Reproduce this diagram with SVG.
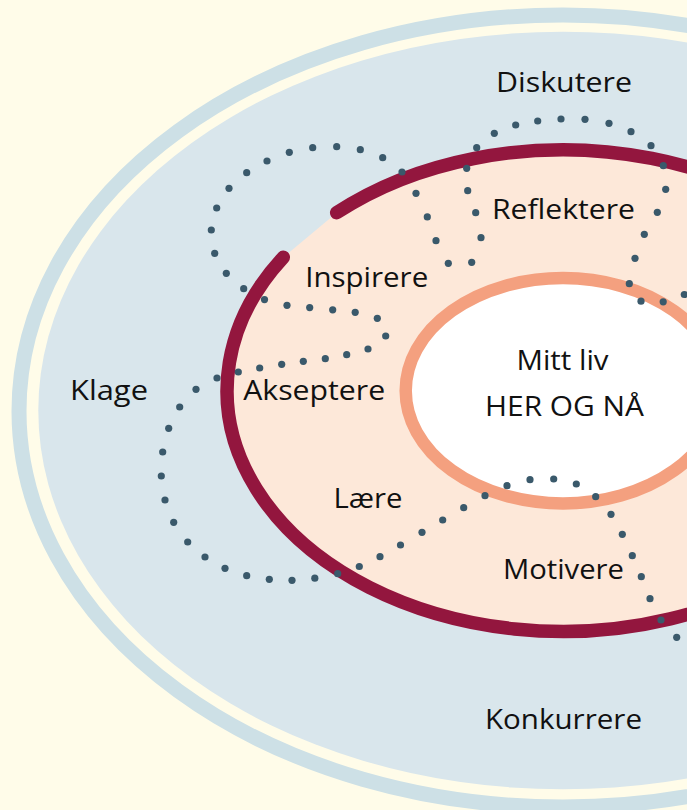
<svg xmlns="http://www.w3.org/2000/svg" width="687" height="810" viewBox="0 0 687 810">
  <style>
    .lbl { font-family: "Open Sans", "Liberation Sans", sans-serif; font-size: 27px; fill: #111111; text-anchor: middle; }
    .dot { fill: #3a596b; }
  </style>
  <rect x="0" y="0" width="687" height="810" fill="#fffce9"/>

  <g id="outer-ring">
    <ellipse cx="563" cy="411" rx="544" ry="396" fill="none" stroke="#cde0e6" stroke-width="15"/>
    <ellipse cx="563" cy="410.5" rx="524.7" ry="378.8" fill="#d9e6ec"/>
  </g>

  <g id="middle-ring">
    <path d="M 336.7 212.7 A 336 240.8 0 1 1 283.3 257.3 Z" fill="#fde8d9"/>
    <path d="M 336.7 212.7 A 336 240.8 0 1 1 283.3 257.3" fill="none" stroke="#93163e" stroke-width="13.5" stroke-linecap="round"/>
  </g>

  <g id="inner-circle">
    <ellipse cx="563" cy="390.7" rx="157.3" ry="112.7" fill="#ffffff" stroke="#f4a07f" stroke-width="12.5"/>
  </g>

  <g id="dotted-path">
    <circle class="dot" cx="684.3" cy="294.5" r="3.6"/>
    <circle class="dot" cx="663.2" cy="301.8" r="3.6"/>
    <circle class="dot" cx="641" cy="301.2" r="3.6"/>
    <circle class="dot" cx="629.3" cy="283.7" r="3.6"/>
    <circle class="dot" cx="635" cy="258.3" r="3.6"/>
    <circle class="dot" cx="644.3" cy="234.3" r="3.6"/>
    <circle class="dot" cx="657.3" cy="212.3" r="3.6"/>
    <circle class="dot" cx="665.7" cy="189.3" r="3.6"/>
    <circle class="dot" cx="663.3" cy="165.7" r="3.6"/>
    <circle class="dot" cx="651" cy="145.7" r="3.6"/>
    <circle class="dot" cx="631" cy="131.7" r="3.6"/>
    <circle class="dot" cx="609" cy="123.3" r="3.6"/>
    <circle class="dot" cx="585" cy="119.3" r="3.6"/>
    <circle class="dot" cx="561" cy="119" r="3.6"/>
    <circle class="dot" cx="537.7" cy="121" r="3.6"/>
    <circle class="dot" cx="515.7" cy="125" r="3.6"/>
    <circle class="dot" cx="494.3" cy="133.3" r="3.6"/>
    <circle class="dot" cx="476.7" cy="147.7" r="3.6"/>
    <circle class="dot" cx="466.7" cy="168.3" r="3.6"/>
    <circle class="dot" cx="467.7" cy="190.7" r="3.6"/>
    <circle class="dot" cx="475.7" cy="212.7" r="3.6"/>
    <circle class="dot" cx="481" cy="237.7" r="3.6"/>
    <circle class="dot" cx="471.7" cy="262.3" r="3.6"/>
    <circle class="dot" cx="448.3" cy="263.3" r="3.6"/>
    <circle class="dot" cx="436" cy="240.7" r="3.6"/>
    <circle class="dot" cx="427.3" cy="216.9" r="3.6"/>
    <circle class="dot" cx="416" cy="193.3" r="3.6"/>
    <circle class="dot" cx="402" cy="172" r="3.6"/>
    <circle class="dot" cx="382.7" cy="157.7" r="3.6"/>
    <circle class="dot" cx="360.3" cy="149.7" r="3.6"/>
    <circle class="dot" cx="336.7" cy="146.7" r="3.6"/>
    <circle class="dot" cx="312.7" cy="147.7" r="3.6"/>
    <circle class="dot" cx="289.3" cy="152.3" r="3.6"/>
    <circle class="dot" cx="267" cy="161" r="3.6"/>
    <circle class="dot" cx="246.7" cy="172.7" r="3.6"/>
    <circle class="dot" cx="229" cy="188.3" r="3.6"/>
    <circle class="dot" cx="216.7" cy="208" r="3.6"/>
    <circle class="dot" cx="211.3" cy="230" r="3.6"/>
    <circle class="dot" cx="214.7" cy="253.3" r="3.6"/>
    <circle class="dot" cx="226.3" cy="273.3" r="3.6"/>
    <circle class="dot" cx="243.7" cy="288.7" r="3.6"/>
    <circle class="dot" cx="264.5" cy="299.6" r="3.6"/>
    <circle class="dot" cx="287" cy="305.3" r="3.6"/>
    <circle class="dot" cx="309.7" cy="307.6" r="3.6"/>
    <circle class="dot" cx="332.7" cy="309.8" r="3.6"/>
    <circle class="dot" cx="355.2" cy="312.3" r="3.6"/>
    <circle class="dot" cx="377.3" cy="318.3" r="3.6"/>
    <circle class="dot" cx="385.7" cy="336" r="3.6"/>
    <circle class="dot" cx="368" cy="349" r="3.6"/>
    <circle class="dot" cx="346.7" cy="354.7" r="3.6"/>
    <circle class="dot" cx="325.3" cy="358.7" r="3.6"/>
    <circle class="dot" cx="303.3" cy="361.3" r="3.6"/>
    <circle class="dot" cx="281.7" cy="364.3" r="3.6"/>
    <circle class="dot" cx="259.7" cy="368" r="3.6"/>
    <circle class="dot" cx="238.3" cy="372" r="3.6"/>
    <circle class="dot" cx="217" cy="378" r="3.6"/>
    <circle class="dot" cx="196" cy="389.3" r="3.6"/>
    <circle class="dot" cx="179.7" cy="407" r="3.6"/>
    <circle class="dot" cx="168.7" cy="428.3" r="3.6"/>
    <circle class="dot" cx="162.7" cy="452" r="3.6"/>
    <circle class="dot" cx="161.3" cy="476" r="3.6"/>
    <circle class="dot" cx="165" cy="500" r="3.6"/>
    <circle class="dot" cx="173.7" cy="522.3" r="3.6"/>
    <circle class="dot" cx="187.7" cy="542" r="3.6"/>
    <circle class="dot" cx="205" cy="557" r="3.6"/>
    <circle class="dot" cx="225" cy="568.3" r="3.6"/>
    <circle class="dot" cx="246.7" cy="575.7" r="3.6"/>
    <circle class="dot" cx="269.3" cy="579.3" r="3.6"/>
    <circle class="dot" cx="292" cy="580.3" r="3.6"/>
    <circle class="dot" cx="314.8" cy="578.2" r="3.6"/>
    <circle class="dot" cx="337.7" cy="573.7" r="3.6"/>
    <circle class="dot" cx="359.3" cy="566.5" r="3.6"/>
    <circle class="dot" cx="380" cy="556.7" r="3.6"/>
    <circle class="dot" cx="400.5" cy="545" r="3.6"/>
    <circle class="dot" cx="422" cy="532.3" r="3.6"/>
    <circle class="dot" cx="442.7" cy="520" r="3.6"/>
    <circle class="dot" cx="463.7" cy="507.7" r="3.6"/>
    <circle class="dot" cx="485" cy="495.7" r="3.6"/>
    <circle class="dot" cx="507" cy="485.7" r="3.6"/>
    <circle class="dot" cx="530" cy="479.7" r="3.6"/>
    <circle class="dot" cx="553.7" cy="479" r="3.6"/>
    <circle class="dot" cx="576.3" cy="484" r="3.6"/>
    <circle class="dot" cx="595.7" cy="496.7" r="3.6"/>
    <circle class="dot" cx="611" cy="514.3" r="3.6"/>
    <circle class="dot" cx="622.3" cy="534.3" r="3.6"/>
    <circle class="dot" cx="632.3" cy="555.7" r="3.6"/>
    <circle class="dot" cx="641.3" cy="576.7" r="3.6"/>
    <circle class="dot" cx="650" cy="598.7" r="3.6"/>
    <circle class="dot" cx="661" cy="620" r="3.6"/>
    <circle class="dot" cx="676.7" cy="637.3" r="3.6"/>
  </g>

  <g id="labels">
    <text id="diskutere" class="lbl" x="564" y="92" textLength="136" lengthAdjust="spacingAndGlyphs">Diskutere</text>
    <text id="reflektere" class="lbl" x="563.5" y="219" textLength="143" lengthAdjust="spacingAndGlyphs">Reflektere</text>
    <text id="inspirere" class="lbl" x="366.7" y="286.7" textLength="123" lengthAdjust="spacingAndGlyphs">Inspirere</text>
    <text id="klage" class="lbl" x="109" y="400" textLength="78" lengthAdjust="spacingAndGlyphs">Klage</text>
    <text id="akseptere" class="lbl" x="314.2" y="400" textLength="142" lengthAdjust="spacingAndGlyphs">Akseptere</text>
    <text id="mitt-liv" class="lbl" x="562.5" y="370" textLength="92" lengthAdjust="spacingAndGlyphs">Mitt liv</text>
    <text id="her-og-na" class="lbl" x="564.5" y="416" textLength="159" lengthAdjust="spacingAndGlyphs">HER OG NÅ</text>
    <text id="laere" class="lbl" x="368" y="508" textLength="69" lengthAdjust="spacingAndGlyphs">Lære</text>
    <text id="motivere" class="lbl" x="563.4" y="579" textLength="121" lengthAdjust="spacingAndGlyphs">Motivere</text>
    <text id="konkurrere" class="lbl" x="563.5" y="729" textLength="157" lengthAdjust="spacingAndGlyphs">Konkurrere</text>
  </g>
</svg>
